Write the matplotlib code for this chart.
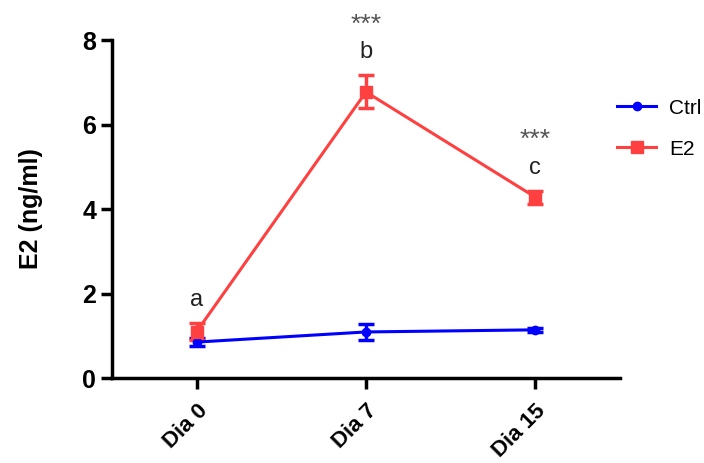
import matplotlib.pyplot as plt
from matplotlib.lines import Line2D

# data
days = ["Dia 0", "Dia 7", "Dia 15"]
ctrl_mean = [0.85, 1.09, 1.14]
ctrl_err = [0.10, 0.19, 0.05]
e2_mean = [1.10, 6.77, 4.28]
e2_err = [0.20, 0.39, 0.15]
letters = ["a", "b", "c"]
stars = ["", "***", "***"]

plt.rcParams["font.family"] = ["Liberation Sans", "DejaVu Sans"]

fig = plt.figure(figsize=(7.04, 4.63), dpi=100)
ax = fig.add_axes([112 / 704, 1 - 378 / 463, 508 / 704, 338 / 463])

x = list(range(len(days)))
blue = "#0000ff"
red = "#ff4040"

ax.errorbar(x, ctrl_mean, yerr=ctrl_err, color=blue, marker="o", markersize=6,
            linewidth=2.2, elinewidth=2.5, capsize=6, capthick=2.5)
ax.errorbar(x, e2_mean, yerr=e2_err, color=red, marker="s", markersize=8,
            linewidth=2.2, elinewidth=2.5, capsize=6, capthick=2.5)

# significance letters and stars
for i in range(len(days)):
    top = e2_mean[i] + e2_err[i]
    ax.text(i, top + 0.55, letters[i], ha="center", va="center", fontsize=17,
            color="#222222", clip_on=False)
    if stars[i]:
        ax.text(i, top + 1.2, stars[i], ha="center", va="center", fontsize=19,
                color="#555555", clip_on=False)

ax.set_xlim(-0.5, 2.5)
ax.set_ylim(0, 8)
ax.set_yticks([0, 2, 4, 6, 8])
ax.set_xticks(x)
ax.set_xticklabels(days, rotation=45, ha="right", rotation_mode="anchor",
                   fontsize=16, fontweight="bold")
for lab in ax.get_yticklabels():
    lab.set_fontweight("bold")
    lab.set_fontsize(18)
ax.set_ylabel("E2 (ng/ml)", fontsize=18, fontweight="bold", labelpad=28)

for s in ["top", "right"]:
    ax.spines[s].set_visible(False)
for s in ["left", "bottom"]:
    ax.spines[s].set_linewidth(2.5)
ax.tick_params(axis="both", width=2.5, length=8, direction="out")
ax.tick_params(axis="x", pad=8)

handles = [
    Line2D([], [], color=blue, marker="o", markersize=6, linewidth=2.2),
    Line2D([], [], color=red, marker="s", markersize=8, linewidth=2.2),
]
ax.legend(handles, ["Ctrl", "E2"], loc="upper left",
          bbox_to_anchor=(598 / 704, 1 - 80 / 463),
          bbox_transform=fig.transFigure, frameon=False, fontsize=15,
          handlelength=1.9, handletextpad=0.6, labelspacing=1.05)

fig.savefig("out.png", dpi=100)
